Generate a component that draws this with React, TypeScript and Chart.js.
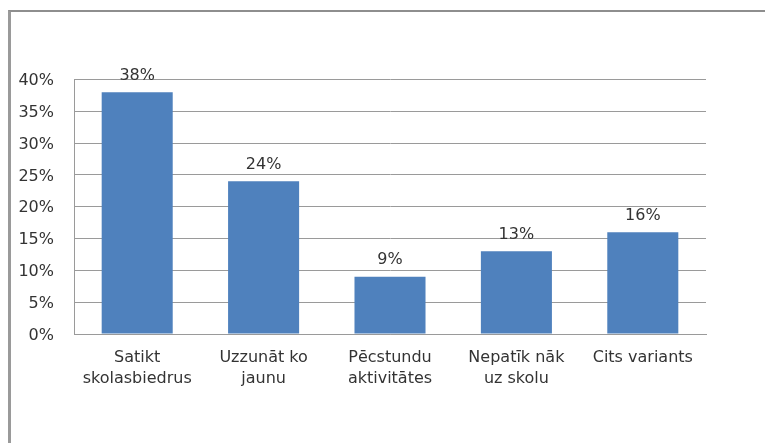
import React, { useEffect, useRef } from "react";
import { Chart, registerables } from "chart.js";

Chart.register(...registerables);

const categories: (string | string[])[] = [
  ["Satikt", "skolasbiedrus"],
  ["Uzzunāt ko", "jaunu"],
  ["Pēcstundu", "aktivitātes"],
  ["Nepatīk nāk", "uz skolu"],
  "Cits variants",
];
const values: number[] = [38, 24, 9, 13, 16];
const yMin = 0;
const yMax = 40;
const yStep = 5;

const FONT = "'DejaVu Sans', sans-serif";
const TEXT = "#333333";
const GRID = "#9a9a9a";

const dataLabels = {
  id: "dataLabels",
  afterDatasetsDraw(chart: any) {
    const ctx = chart.ctx;
    const meta = chart.getDatasetMeta(0);
    ctx.save();
    ctx.font = `16px ${FONT}`;
    ctx.fillStyle = TEXT;
    ctx.textAlign = "center";
    ctx.textBaseline = "middle";
    meta.data.forEach((bar: any, i: number) => {
      ctx.fillText(values[i] + "%", bar.x, bar.y - 16.5);
    });
    ctx.restore();
  },
};

export default function App() {
  const ref = useRef<HTMLCanvasElement | null>(null);
  useEffect(() => {
    if (!ref.current) return;
    const chart = new Chart(ref.current, {
      type: "bar",
      data: {
        labels: categories,
        datasets: [
          {
            data: values,
            backgroundColor: "#4F81BD",
            borderWidth: 0,
            categoryPercentage: 1,
            barPercentage: 0.562,
          },
        ],
      },
      options: {
        animation: false,
        responsive: false,
        maintainAspectRatio: false,
        layout: { padding: { top: 79.5, right: 59, left: 0, bottom: 0 } },
        plugins: { legend: { display: false }, tooltip: { enabled: false } },
        scales: {
          x: {
            grid: { display: false },
            border: { display: true, color: GRID, width: 1 },
            ticks: {
              color: TEXT,
              font: { family: FONT, size: 16, lineHeight: 1.32 },
              padding: 5,
              maxRotation: 0,
              autoSkip: false,
            },
            afterFit: (s: any) => {
              s.height = 109;
            },
          },
          y: {
            min: yMin,
            max: yMax,
            grid: { color: GRID, lineWidth: 1, drawTicks: false },
            border: { display: true, color: GRID, width: 1 },
            ticks: {
              stepSize: yStep,
              color: TEXT,
              font: { family: FONT, size: 16 },
              padding: 20,
              labelOffset: 1.5,
              callback: (v: any) => v + "%",
            },
            afterFit: (s: any) => {
              s.width = 74;
            },
          },
        },
      },
      plugins: [dataLabels],
    });
    return () => chart.destroy();
  }, []);

  return (
    <div style={{ position: "absolute", left: 0, top: 0, width: 765, height: 443, background: "#fff", overflow: "hidden" }}>
      <div
        style={{
          position: "absolute",
          left: 8,
          top: 10,
          width: 800,
          height: 500,
          borderTop: "2px solid #8e8e8e",
          borderLeft: "3px solid #9a9a9a",
        }}
      />
      <canvas ref={ref} width={765} height={443} style={{ position: "absolute", left: 0, top: 0 }} />
    </div>
  );
}
